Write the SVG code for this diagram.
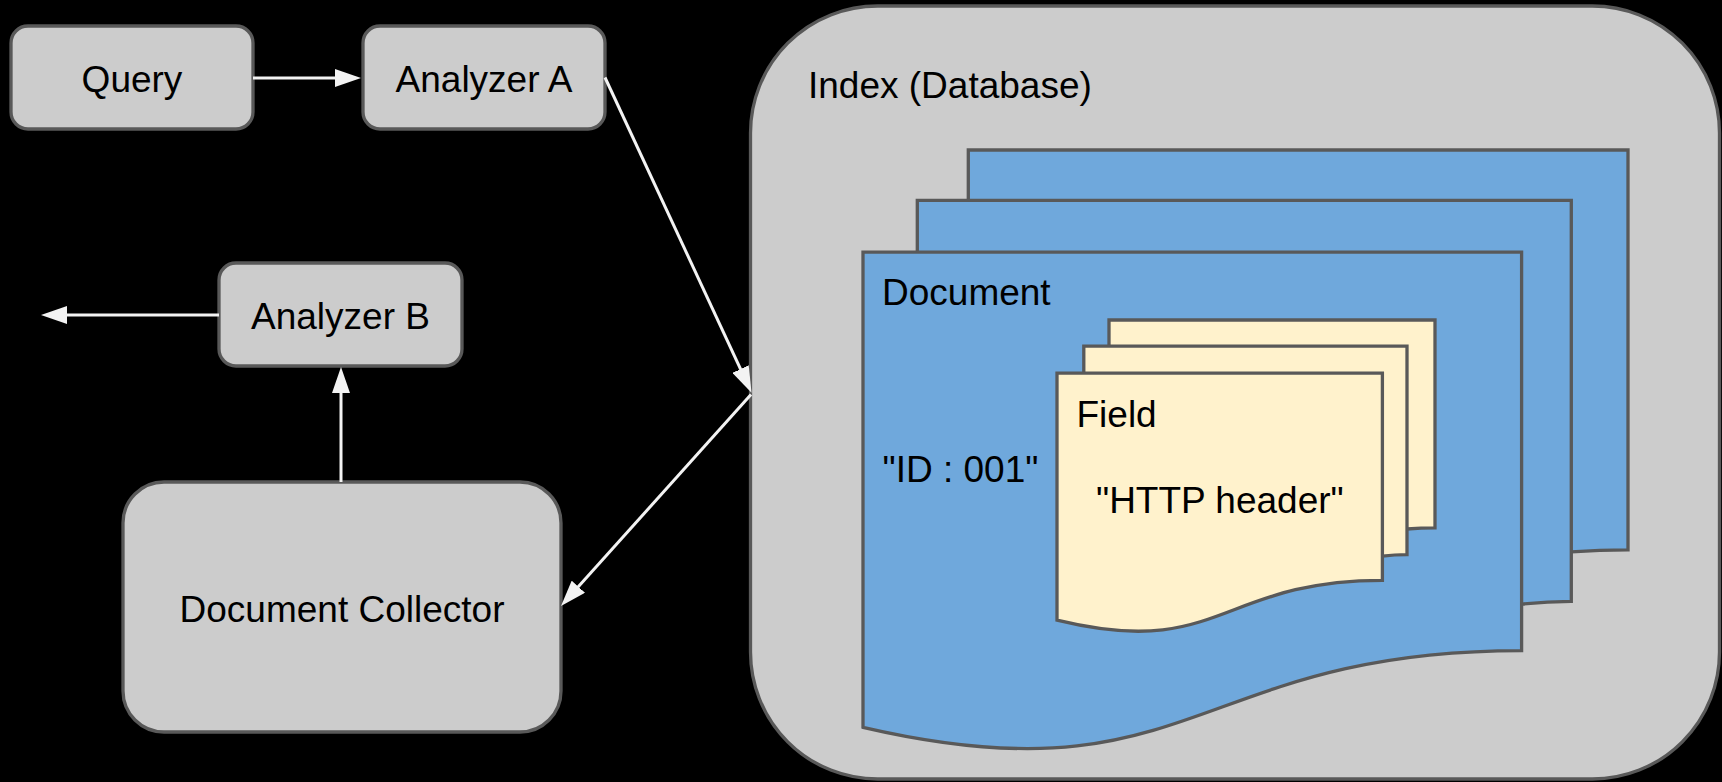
<svg xmlns="http://www.w3.org/2000/svg" width="1722" height="782" viewBox="0 0 1722 782">
  <style>
    .box { fill: #cccccc; stroke: #595959; stroke-width: 3.3; }
    .sheet { fill: #6fa8dc; stroke: #595959; stroke-width: 3.3; stroke-linejoin: miter; }
    .field { fill: #fff2cc; stroke: #595959; stroke-width: 3.3; stroke-linejoin: miter; }
    .label { font-family: "Liberation Sans", Arial, sans-serif; font-size: 37px; fill: #000000; }
    .mid { text-anchor: middle; }
    .edge { fill: none; stroke: #f3f3f3; stroke-width: 3; marker-end: url(#arrow); }
  </style>
  <defs>
    <marker id="arrow" viewBox="0 0 26 18" refX="16" refY="9" markerWidth="26" markerHeight="18" markerUnits="userSpaceOnUse" orient="auto">
      <path d="M0,0 L26,9 L0,18 Z" fill="#f3f3f3"/>
    </marker>
  </defs>

  <rect width="1722" height="782" fill="#000000"/>

  <!-- Index container with stacked documents and fields -->
  <g id="index">
    <rect class="box" x="750.5" y="6" width="969" height="773" rx="127" ry="127"/>
    <text class="label" x="808" y="97.7">Index (Database)</text>
  </g>

  <g id="documents">
    <path class="sheet" d="M968.3,150 H1628 V549.8 C1599.7,549.8 1571.3,551.9 1571.3,551.9 L968.3,551.9 Z"/>
    <path class="sheet" d="M917.3,200.4 H1571.3 V601.4 C1546.5,601.4 1521.6,604.2 1521.6,604.2 L917.3,604.2 Z"/>
    <path class="sheet" d="M863,252.1 H1521.6 V650.6 C1192.3,650.6 1192.3,803.9 863,727.3 Z"/>
    <text class="label" x="882" y="304.5">Document</text>
    <text class="label" x="882.5" y="481.7">"ID : 001"</text>
  </g>

  <g id="fields">
    <path class="field" d="M1109,320 H1435 V527.9 C1421,527.9 1407,529 1407,529 L1109,529 Z"/>
    <path class="field" d="M1083.8,346.2 H1407 V554.7 C1394.7,554.7 1382.4,556.2 1382.4,556.2 L1083.8,556.2 Z"/>
    <path class="field" d="M1057,373.1 H1382.4 V580.3 C1219.7,580.3 1219.7,660 1057,620.2 Z"/>
    <text class="label" x="1076.5" y="426.7">Field</text>
    <text class="label" x="1096" y="513.3">"HTTP header"</text>
  </g>

  <g id="query">
    <rect class="box" x="11" y="26" width="242" height="103" rx="17" ry="17"/>
    <text class="label mid" x="132" y="91.5">Query</text>
  </g>

  <g id="analyzer-a">
    <rect class="box" x="363" y="26" width="242" height="103" rx="17" ry="17"/>
    <text class="label mid" x="484" y="91.5">Analyzer A</text>
  </g>

  <g id="analyzer-b">
    <rect class="box" x="219" y="263" width="243" height="103" rx="17" ry="17"/>
    <text class="label mid" x="340.5" y="329">Analyzer B</text>
  </g>

  <g id="document-collector">
    <rect class="box" x="123" y="482" width="438" height="250" rx="41" ry="41"/>
    <text class="label mid" x="342" y="621.5">Document Collector</text>
  </g>

  <!-- Connectors -->
  <g id="connectors">
    <line class="edge" x1="253" y1="78" x2="351" y2="78"/>
    <line class="edge" x1="605" y1="77.5" x2="747.3" y2="383.6"/>
    <line class="edge" x1="751" y1="394.5" x2="567.7" y2="598.6"/>
    <line class="edge" x1="219" y1="315" x2="51" y2="315"/>
    <line class="edge" x1="341" y1="482" x2="341" y2="377"/>
  </g>
</svg>
